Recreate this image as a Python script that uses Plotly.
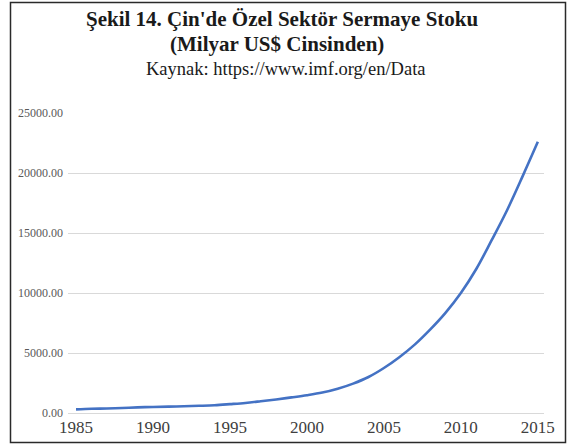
import plotly.graph_objects as go

years = list(range(1985, 2016))
stock = [300, 350, 380, 420, 470, 500, 530, 560, 600, 650,
         740, 840, 980, 1130, 1300, 1480, 1700, 2020, 2450, 3000,
         3750, 4650, 5700, 6950, 8350, 10000, 12000, 14400, 16900, 19700, 22600]
x_ticks = [1985, 1990, 1995, 2000, 2005, 2010, 2015]
y_ticks = [0, 5000, 10000, 15000, 20000, 25000]
y_tick_text = ["%.2f" % v for v in y_ticks]

W, H = 567, 444
L, R, T, B = 68, 23, 113, 31
pw, ph = W - L - R, H - T - B

def px_x(p):
    return (p - L) / pw

def px_y(p):
    return (H - B - p) / ph

fig = go.Figure()
fig.add_trace(go.Scatter(
    x=years, y=stock, mode="lines",
    line=dict(color="#4472C4", width=2.6, shape="spline", smoothing=1.0),
    hoverinfo="x+y", showlegend=False,
))

serif = "Liberation Serif"
fig.update_layout(
    width=W, height=H,
    margin=dict(l=L, r=R, t=T, b=B, pad=0, autoexpand=False),
    paper_bgcolor="white", plot_bgcolor="white",
    font=dict(family=serif, color="#404040"),
    xaxis=dict(
        range=[1984.48, 2015.40], tickvals=x_ticks, ticktext=[str(v) for v in x_ticks],
        showgrid=False, zeroline=False, showline=False, ticks="",
        automargin=False, ticklabelstandoff=2,
        tickfont=dict(size=17, color="#404040", family=serif),
    ),
    yaxis=dict(
        range=[0, 25000], tickvals=y_ticks, ticktext=y_tick_text,
        showgrid=True, gridcolor="#D9D9D9", gridwidth=1,
        zeroline=True, zerolinecolor="#D9D9D9", zerolinewidth=1,
        showline=False, ticks="", ticklabelstandoff=4, automargin=False,
        tickfont=dict(size=12, color="#595959", family=serif),
    ),
)

fig.add_annotation(text="<b>Şekil 14. Çin'de Özel Sektör Sermaye Stoku</b>",
                   xref="paper", yref="paper", x=px_x(282), y=px_y(19),
                   showarrow=False, xanchor="center", yanchor="middle",
                   font=dict(size=21, color="#1a1a1a", family=serif))
fig.add_annotation(text="<b>(Milyar US$ Cinsinden)</b>",
                   xref="paper", yref="paper", x=px_x(277), y=px_y(44),
                   showarrow=False, xanchor="center", yanchor="middle",
                   font=dict(size=21, color="#1a1a1a", family=serif))
fig.add_annotation(text="Kaynak: https://www.imf.org/en/Data",
                   xref="paper", yref="paper", x=px_x(286), y=px_y(69),
                   showarrow=False, xanchor="center", yanchor="middle",
                   font=dict(size=18.5, color="#1a1a1a", family=serif))

fig.add_shape(type="rect", xref="paper", yref="paper",
              x0=px_x(10.5), x1=px_x(565.5), y0=px_y(442.5), y1=px_y(2.5),
              line=dict(color="#2a2a2a", width=1.5), fillcolor="rgba(0,0,0,0)", layer="above")

fig.write_html("out.html", config={"displayModeBar": False},
               post_script="document.body.style.margin='0';document.body.style.overflow='hidden';")
